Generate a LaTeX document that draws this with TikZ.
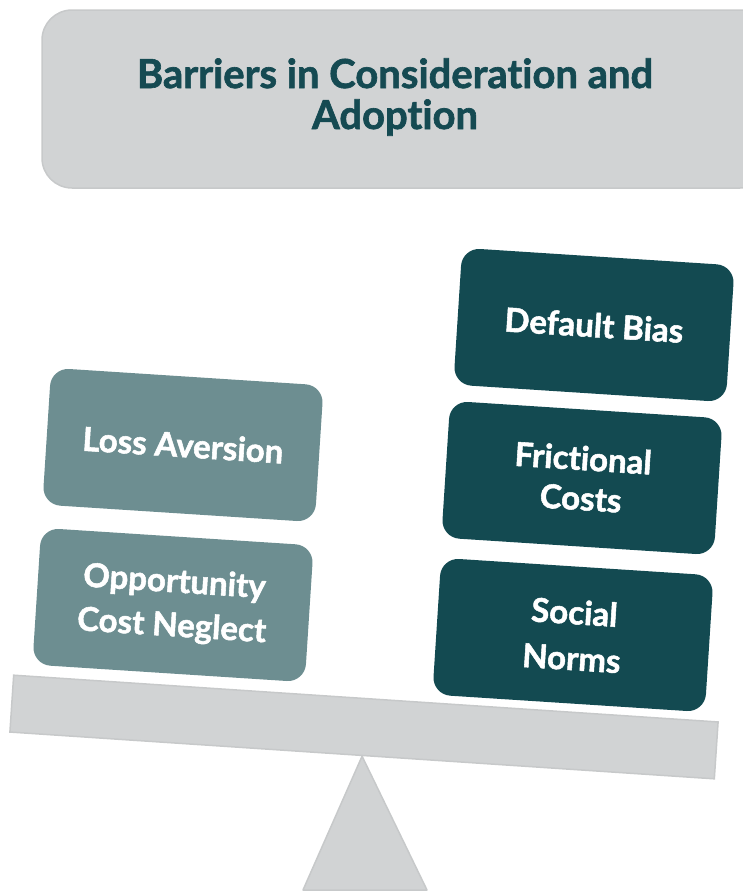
\documentclass[tikz,border=0pt]{standalone}
\usepackage{fontspec}
\setmainfont{Lato}[UprightFont=* Bold,BoldFont=* Bold,BoldFeatures={FakeBold=1.6},Ligatures=NoCommon]
\definecolor{headteal}{HTML}{154A52}
\definecolor{lightteal}{HTML}{6D8E91}
\definecolor{darkteal}{HTML}{134A51}
\definecolor{beamgray}{HTML}{D1D3D4}
\definecolor{edgegray}{HTML}{C7C9CA}
\begin{document}
\begin{tikzpicture}[x=1pt,y=1pt]
        \tikzset{
            titlebox/.style={fill=beamgray,draw=edgegray,line width=1.5pt,rounded corners=30pt,minimum width=728pt,minimum height=178pt},
            titletext/.style={text=headteal,font=\fontsize{40}{41}\selectfont\bfseries,align=center},
            barrier/.style={rounded corners=18pt,minimum width=273pt,minimum height=137pt,rotate=-3.7,
                text=white,font=\fontsize{33}{40}\selectfont\bfseries,align=center},
            lossbox/.style={barrier,fill=lightteal},
            adoptbox/.style={barrier,fill=darkteal}
        }
        \useasboundingbox (0,0) rectangle (743,-892);

        % heading
        \node[titlebox] (titlebox) at (406,-99) {};
        \node[titletext] (title) at (395,-97) {Barriers in Consideration and\\Adoption};

        % fulcrum under the beam
        \node[fill=beamgray,draw=edgegray,line width=1.5pt,minimum width=706pt,minimum height=57pt,rotate=-3.8]
            (beam) at (364,-727) {};
        \draw[fill=beamgray,draw=edgegray,line width=1.5pt,line join=round]
            (beam.south) -- (427,-890) -- (303,-890) -- cycle;

        % left pan
        \node[lossbox] (loss) at (183,-445) {Loss Aversion};
        \node[lossbox] (opportunity) at (173,-605) {Opportunity\\[4pt]Cost Neglect};

        % right pan
        \node[adoptbox] (default) at (594,-325) {Default Bias};
        \node[adoptbox] (frictional) at (582,-478) {Frictional\\Costs};
        \node[adoptbox] (social) at (573,-635) {Social\\[6pt]Norms};
    \end{tikzpicture}
\end{document}
